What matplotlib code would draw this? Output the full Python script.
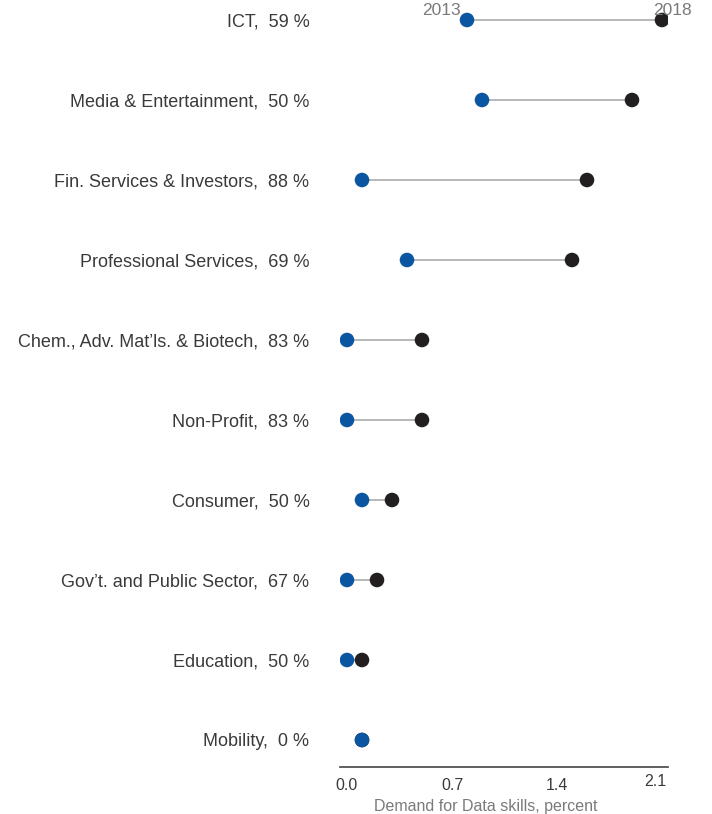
import matplotlib.pyplot as plt
import matplotlib.transforms as mtransforms
import numpy as np

plt.rcParams['font.family'] = ['Liberation Sans', 'DejaVu Sans']

# Dados
sectors = ["ICT", "Media & Entertainment", "Fin. Services & Investors",
           "Professional Services", "Chem., Adv. Mat\u2019ls. & Biotech",
           "Non-Profit", "Consumer", "Gov\u2019t. and Public Sector",
           "Education", "Mobility"]
growth = [59, 50, 88, 69, 83, 83, 50, 67, 50, 0]
demand_2013 = [0.8, 0.9, 0.1, 0.4, 0.0, 0.0, 0.1, 0.0, 0.0, 0.1]
demand_2018 = [2.1, 1.9, 1.6, 1.5, 0.5, 0.5, 0.3, 0.2, 0.1, 0.1]
x_ticks = [0.0, 0.7, 1.4, 2.1]

labels = [f"{s},  {g} %" for s, g in zip(sectors, growth)]
y = np.arange(len(sectors))

fig = plt.figure(figsize=(7.12, 8.14), dpi=100)
ax = fig.add_axes([340 / 712, 47 / 814, 328 / 712, 767 / 814])

ax.hlines(y, demand_2013, demand_2018, color='#b8b8b8', linewidth=1.4, zorder=1)
ax.scatter(demand_2018, y, s=110, color='#231f20', zorder=2, edgecolors='none')
ax.scatter(demand_2013, y, s=110, color='#0b56a0', zorder=3, edgecolors='none')

ax.set_xlim(-7 / 150, 2.1 + 6 / 150)
ax.set_ylim(9 + 27 / 80, -20 / 80)

ax.set_yticks(y)
ax.set_yticklabels(labels, fontsize=13, color='#3a3a3a')
ax.set_xticks(x_ticks)
ax.set_xticklabels([f"{v:.1f}" for v in x_ticks], fontsize=11.5, color='#3a3a3a')
ax.tick_params(axis='y', length=0, pad=22)
ax.tick_params(axis='x', length=0, pad=8)

# último rótulo um pouco à esquerda e acima, como no original
last = ax.get_xticklabels()[-1]
last.set_transform(last.get_transform() +
                   mtransforms.ScaledTranslation(-5 / 72, 3 / 72, fig.dpi_scale_trans))

for side in ['top', 'right', 'left']:
    ax.spines[side].set_visible(False)
ax.spines['bottom'].set_color('#444444')
ax.spines['bottom'].set_linewidth(1.2)

# título do eixo x, um pouco à esquerda do centro
ax.text(0.445, -39 / 767, "Demand for Data skills, percent", transform=ax.transAxes,
        ha='center', va='center', fontsize=11.5, color='#7a7a7a')

# Rótulos dos anos no topo
ax.text(0.627, -0.0625, "2013", ha='center', va='baseline', fontsize=12.5,
        color='#7a7a7a', clip_on=False)
ax.text(2.17, -0.0625, "2018", ha='center', va='baseline', fontsize=12.5,
        color='#7a7a7a', clip_on=False)

fig.savefig("out.png", dpi=100)
